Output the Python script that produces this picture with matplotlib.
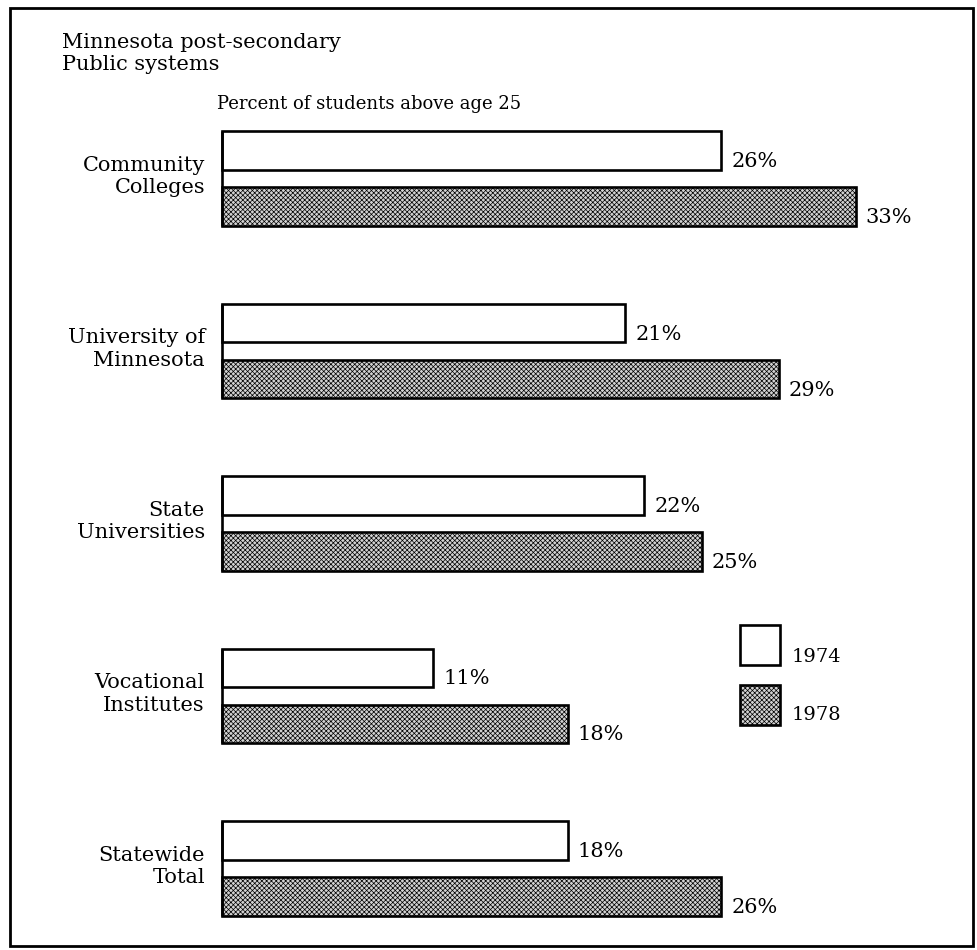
import matplotlib
matplotlib.use('Agg')
import matplotlib.pyplot as plt
from matplotlib.patches import Rectangle

# ── Data ────────────────────────────────────────────────────────────
categories = ['Community\nColleges', 'University of\nMinnesota', 'State\nUniversities',
              'Vocational\nInstitutes', 'Statewide\nTotal']
pct_1974 = [26, 21, 22, 11, 18]
pct_1978 = [33, 29, 25, 18, 26]
years = ['1974', '1978']

# ── Layout (pixels of a 978x950 canvas) ─────────────────────────────
W, H = 978, 950
X0 = 222          # pixel where 0 % sits
PX_PER_PCT = 19.2
Y0 = 178.5        # pixel centre of first group
PX_PER_GROUP = 172.5
OFF = 28 / PX_PER_GROUP
BAR_H = 38.5 / PX_PER_GROUP
GREY = '#d2d2d2'
HATCH = 'xxxxxxx'

plt.rcParams['font.family'] = 'DejaVu Serif'
plt.rcParams['hatch.linewidth'] = 0.5
plt.rcParams['hatch.color'] = '#6a6a6a'

fig = plt.figure(figsize=(W / 100, H / 100), dpi=100)
fig.patch.set_facecolor('white')
ax = fig.add_axes([0, 0, 1, 1])
ax.set_xlim(-X0 / PX_PER_PCT, (W - X0) / PX_PER_PCT)
ax.set_ylim((H - Y0) / PX_PER_GROUP, -Y0 / PX_PER_GROUP)
ax.axis('off')

ys = list(range(len(categories)))
y74 = [y - OFF for y in ys]
y78 = [y + OFF for y in ys]

ax.barh(y74, pct_1974, height=BAR_H, color='white', edgecolor='black', linewidth=1.9)
ax.barh(y78, pct_1978, height=BAR_H, color=GREY, edgecolor='black', linewidth=1.9,
        hatch=HATCH)

# left edge joining each pair
for y in ys:
    ax.plot([0, 0], [y - OFF - BAR_H / 2, y + OFF + BAR_H / 2], color='black', lw=1.9,
            solid_capstyle='butt')

lab_dy = 11 / PX_PER_GROUP
lab_dx = 10 / PX_PER_PCT
for y, v in zip(y74, pct_1974):
    ax.text(v + lab_dx, y + lab_dy, f'{v}%', va='center', ha='left', fontsize=15)
for y, v in zip(y78, pct_1978):
    ax.text(v + lab_dx, y + lab_dy, f'{v}%', va='center', ha='left', fontsize=15)

for y, c in zip(ys, categories):
    ax.text(-17 / PX_PER_PCT, y - 2 / PX_PER_GROUP, c, ha='right', va='center',
            multialignment='right', fontsize=15, linespacing=1.25)

# legend boxes
lx = (740 - X0) / PX_PER_PCT
for i, (yr, fc, hatch) in enumerate(zip(years, ['white', GREY], [None, HATCH])):
    top = (625 + i * 60 - Y0) / PX_PER_GROUP
    ax.add_patch(Rectangle((lx, top), 40 / PX_PER_PCT, 40 / PX_PER_GROUP, facecolor=fc,
                           edgecolor='black', linewidth=1.9, hatch=hatch))
    ax.text((792 - X0) / PX_PER_PCT, (657 + i * 58 - Y0) / PX_PER_GROUP, yr,
            ha='left', va='center', fontsize=14)

# titles
fig.text(62 / W, 1 - 42 / H, 'Minnesota post-secondary', ha='left', va='center', fontsize=15)
fig.text(62 / W, 1 - 65 / H, 'Public systems', ha='left', va='center', fontsize=15)
fig.text(217 / W, 1 - 104 / H, 'Percent of students above age 25', ha='left',
         va='center', fontsize=13)

# frame
fig.patches.append(Rectangle((10 / W, 1 - 946 / H), (973 - 10) / W, (946 - 8) / H,
                             transform=fig.transFigure, fill=False,
                             edgecolor='black', linewidth=2))

fig.savefig('out.png', dpi=100)
